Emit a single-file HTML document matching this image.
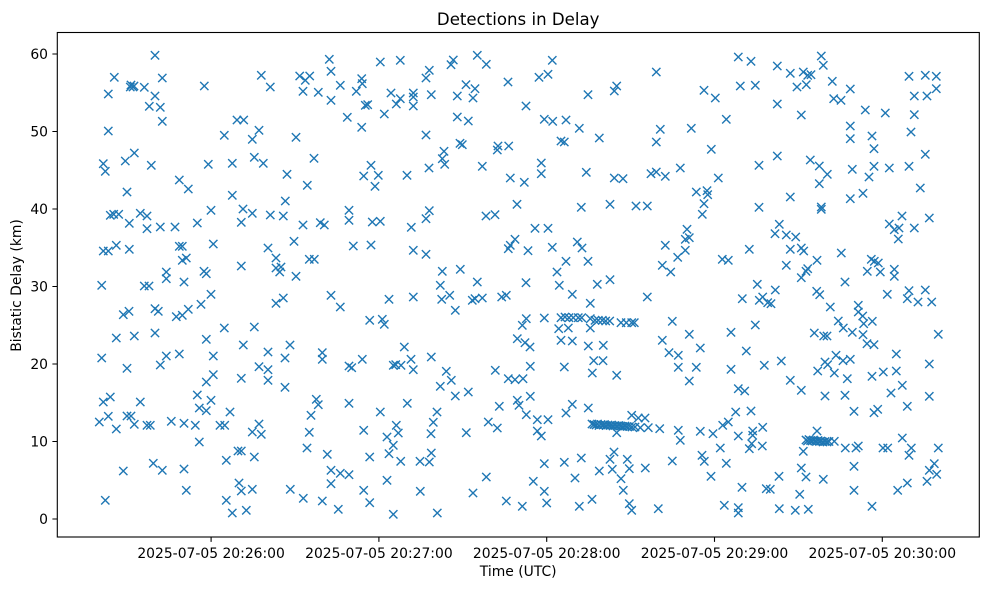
<!DOCTYPE html>
<html><head><meta charset="utf-8"><style>
html,body{margin:0;padding:0;background:#fff;}
svg{display:block;}
text{font-family:"DejaVu Sans","Liberation Sans",sans-serif;fill:#000;}
</style></head><body>
<svg width="989" height="590" viewBox="0 0 989 590" xmlns="http://www.w3.org/2000/svg">
<defs>
<marker id="mx" markerWidth="10" markerHeight="10" refX="5" refY="5" markerUnits="userSpaceOnUse" orient="0" overflow="visible">
<path d="M0.85 0.85L9.15 9.15M9.15 0.85L0.85 9.15" stroke="#1f77b4" stroke-width="1.39" fill="none"/>
</marker>
</defs>
<rect x="0" y="0" width="989" height="590" fill="#fff"/>
<text x="518.2" y="25" font-size="16.6" text-anchor="middle">Detections in Delay</text>
<polyline fill="none" stroke="none" marker-start="url(#mx)" marker-mid="url(#mx)" marker-end="url(#mx)" points="
155,55.3 114.3,77.3 162.3,78 131,85 133,87 134,86 130.3,87 144.3,87.3 204.3,86 108.3,94 155,96 149.3,106.3 160.3,107.3 162.3,121.3 108.3,131
261.3,75.3 270.3,87 299.7,76 305.3,80.3 309.7,76 303,91.3 318.3,92.3 329.3,59.3 331,71.3 340.3,85.3 331,100.3 356.3,91.3 361.7,78.7 362.3,83.7 365.3,105.3
347.3,117.3 361.7,127.3 237,120 243.7,120 224.3,135.3 259,130.3 252.3,139.3 296,137.3 103.3,163.7 105.3,171.3 125.3,161 134.3,153 151.3,165.3 208.3,164.3
232.3,163.3 254.3,157.3 263.3,163.3 314,158.3 287,174.3 307.3,185.3 363.7,176 179.3,180 188.3,189 127,192 232.3,195.3 285.3,201 211,210.3 243,209
252.3,213.3 270.3,215 283.3,216 241.3,222.3 110.3,215.3 113.7,214.3 118.7,214.3 129.3,223.3 140.3,213.3 147,216 147,228.7 160.3,227 175,227 197.3,223
303,225 320.3,222.7 324.3,225 349,210.3 349,220.3 353.3,246 103.3,251 108.3,251 116.3,245.3 129.3,249.3 179.3,246.3 182.3,246.3 182.3,260.3 186.3,258
213.3,244 268,248 276,258 294,241.3 309.3,259.3 314.3,259.3 241.3,266 276,268 281,267 279.7,272 296,276.3 166.3,272 166.3,278.7 204,271.3 206.3,273.7
184,282 101.7,285.3 144.3,286 149,286
380.3,62 400.3,60.3 429.3,70.3 426,78 451,64.7 453.3,60 477.3,55.3 486.3,64.3 508,82 539,77.3 548,74.3 552.3,60.3 656.3,72 391,93 396.3,104 400.3,98.7
413.3,93 413.3,97 413.3,106 431.3,94.7 384.3,114 367.7,104.7 457.3,96 466,84.7 475,88.7 473,98 457.3,117 468.3,121 526,106 588,94.7 614.3,91 616.7,86
544.3,119.3 552.7,121.3 566,120 579.3,128.3 599.3,138 660.3,129.3 656.3,142 426,135 460,143.3 462.3,144.7 498,146 497.3,150 508.7,146 561,141 564.3,142
444,151.3 442.3,158.7 444.7,164.3 371,165.3 378.3,175.3 375,186.3 407,175.3 429,168 482.3,166.3 541.3,163 541.3,173.7 510.3,178 524.3,182.3 586.3,172.3
614.3,178 623,178.7 651,173.7 656.3,172 665.3,176.3 517,204.3 581.3,207.3 610,204.3 636,206 647.3,206 429.3,210.7 426,218.7 486,216 495,214.7 372.3,222
380.3,221.3 411.3,227.3 535,228.3 548,228.3 371,245 413.3,250.3 426,254.3 508.3,248.7 510.3,245.3 515,239.3 528,250.7 552.3,247.3 577.3,242 582,248
665.3,245.3 566,261.3 588,261.3 442.3,271.3 460.3,269.3 557,272 662.3,265.3 670.7,272 440.3,285.3 477.3,282 526,282.7 559.3,285.3 597.3,284.3 610,279.7
738.3,57 751,61.3 777.3,66 790.3,73.3 803.3,72 807.7,75.3 811,74.7 821.3,56 823.3,65.3 832.3,81.3 797,87 806.3,84.7 740.3,86 755.3,85.3 704,90.3 715.3,98
777.3,104 833.7,98.7 841,100.3 850.3,89 909,76.3 925.3,75.3 936.3,76.3 914.3,96 927,96 936.3,88.7 865.3,110 885.3,113 914.3,114.7 801.3,115 726.3,119.3
691.3,128.3 850.3,126 850.3,138.7 872,136 874,148.7 911,132 711.3,149.3 925.3,154.3 777.3,156 810.3,160 819.3,166 827.3,174.3 819.3,183.7 680.3,168
759,165.3 718.3,178 852.3,169.3 874,166.3 869,177 889.3,168 909,166.3 920.3,188 696.3,192 707,190.7 707.7,194.7 704,203.7 702.3,214.3 790.3,197 759,207.3
821.3,207 821.3,209.3 850.3,198.7 863,193.3 902,216 929.3,218 889.3,224 894.3,229.7 899,228 898.3,239 914.3,228 779.3,224.3 775,233.7 786.3,235 795.7,237
687,229.3 685.3,239.3 689.3,237.7 685.3,250.3 677.7,257.3 749.3,249.3 790.3,249.3 801.3,248 803.7,251 841.3,253 722.3,259.3 728.3,260.3 786.3,265.3
817,260.3 807.7,268.7 806,271.3 801.3,277.7 871.3,259.3 874.3,261.3 878.3,263 867.3,271.3 880.3,272 894.3,269.3 894.3,276.3 757.3,284.3 845,282
211,294.3 201,304.3 188.3,309.3 182.3,315.3 176.3,316.7 155,308.7 158.3,311.3 123.3,314.7 129,311.3 276,303.3 283.3,298 331,295.3 340.3,307 116.3,338
134.3,336 155,333 206.3,339.3 224.3,328 254.3,327 243.3,345 290,345 268,352 285,358 322.3,352.7 322.3,359.3 362.3,359.3 349,366 351.7,367.7 101.7,358
127,368.3 160.3,365 166.3,356 179.3,354 213.3,356 259,366.7 268,369.7 268,380.3 241.3,378.3 206.3,382 213.3,374.7 285,387.3 103.3,402 110.3,397 140.3,402
197.3,395 211,400.3 199.3,408 206.3,410.7 230,412 316.3,399.3 318.3,404.7 349,403.3 311,415.3 99.3,422 108.3,416.3 116.3,429 127,416 131,416 134.3,424.3
147,425.3 150.3,425.3 171.3,421.3 184,423.3 195.3,425.3 220,425.3 224.7,425.3 199.3,442 252.3,432 259,424 261.3,434.3 309.3,432.3 363.7,430.3 307,448
327.3,454.3 238,451 241.3,451 226.3,460.3 254.3,457 123.3,471 153.3,463.3 162.3,470.3 184,469 331,470.3 340.3,473.3 349,474.7 239,483 241.3,491
252.3,489.3 186.3,490.3 290.3,489.3 331,483.7 363.7,490.3 105.3,500.3 226.3,500.3 303.3,498.3 322.3,501 232.3,513 246.3,510.3 338.3,509.3
389,299.3 413.3,297 441.7,299.3 449.7,295.3 455.3,310.3 472.3,300.3 475,298.7 482.3,298 501.7,297 506.3,295.3 572.3,294.3 590.3,303.3 647.3,297
369.7,320.3 382.3,319.3 384.3,324.3 526.3,318.7 522.3,325.3 544.3,318 561,317.7 565,317 569,317.7 573.3,317.7 578.3,317.7 581.7,317.7 590.3,318.7
595,320.3 598.3,320.3 602.3,320.3 605.7,321 609.7,321 621,322.7 626.3,322.7 631.7,322.7 634.3,322.7 672.3,321.3 558.7,328.7 568.3,328 590.3,328
517.3,338.7 525,342.7 530,347 561,340.3 572.3,341 588.3,346 603.3,345.3 662.3,340.3 669,352.7 404.3,347 393.3,365.3 395.7,364.7 401,365.3 411,359.3
413.3,369.7 431.3,357 446.3,371.3 451.3,380.3 440.3,386.3 455.3,396 468.3,392 495.3,370.3 508.3,378.7 515,379.7 523,378.7 530.3,366.3 564.3,367
593.7,360.7 603,360.7 592.3,373 616.7,375.3 530.3,396.3 407.3,403.3 380.3,412 437,412 433.3,422.3 431,433.7 499.3,406.3 517.3,400.3 519,405.3 526.3,414.7
572.3,404.3 566,413 588.3,408 488.3,422 497.3,428 466.3,432.7 537.3,419.7 548,419.7 537.3,431 541.3,436 640.3,427.7 648.3,427.7 659.7,428.7 631.7,415.3
638.3,418 645,418 616.7,432.7 396.3,425.3 398.3,433 387,437 393.3,445.3 389,453.7 369.7,457 400.7,461.3 420,461.3 429.3,462 431.3,453 544.3,463.7
564.3,462.3 581.3,458 614,452 610,459.3 612.3,469.3 627.3,459.3 629.3,468.7 645.3,468 599.3,471 575,478 621,478.7 672.3,461 387,480.3 486.3,477
533.3,481.3 420.3,491.3 473,493 544.3,491.3 623.3,490.3 369.7,502.7 506.3,501 522.3,506.3 546.7,503 579.3,506.3 592,499.3 629.3,503.7 631.7,510.3
658.3,508.7 393.3,514.3 437.3,513
592,424 594,424.5 596,425 597.5,424 599,425.5 601,424.5 603,425 604.5,424.5 606,425.5 608,425 610,425.5 611.5,425 613,426 615,425.5 617,426 619,425.5
621,426 623,426.5 625,426 627,426.5 629.5,426.5 632,427 635,427
742.3,298.7 759.3,300.3 762.7,297 767.7,302.7 771,303.7 775.3,290 816.7,291.3 819.7,294.7 830.3,307 858.3,305.3 858.3,312 862.7,316 863.7,323.7
872.3,321.3 887.3,294.3 909,290.7 907.3,298.7 918,302 925.3,290 931.7,302 689.3,334.3 731,332.3 755.3,325 838.3,321 843.3,328 852.3,332.3 814.3,333
823.7,336 827,336 863,334.7 867,343.7 874,344.7 938.3,334.3 700.3,348 678.3,355.3 678.3,367.3 696.3,367.3 689.3,381 746.3,351 731,369.3 764.3,365.3
781.3,361 790.3,380.3 801.3,390.3 825,362 827.7,364.7 817.7,371 834.3,373 836,355.3 843,360.7 850.3,359.3 847.3,378.7 825,396 845,395.3 896.3,354
929.3,364 872,376.3 883.3,372 896.3,371 902.3,385.3 891,393 929.3,396.3 738.3,388.7 744.7,391 854,411.3 874,412.7 877.7,409.3 907.3,406.3 735.7,412
751,411 728.3,422 722.7,425.3 713,433.7 678.3,430.3 680.3,440.3 700.3,431.3 738.3,436 752.7,431 752.7,435.3 762.7,427.3 751.7,443.7 749.3,448.7
762.3,446 720.3,448 702,455.3 704.3,461.3 726.3,463.3 711,476.3 742,487.3 766.3,488.7 770.3,489.3 779,476.3 724.3,505.3 738.3,507.7 738.3,513
779.3,508.7 795.3,510.3 808.3,509.3 799.7,494.3 817,431 834.3,441.3 803.3,451.3 845.3,448 856,448 858.3,446 883,448 887.7,448 902.3,438 911.3,448
909,455.3 938.3,448 854,466.3 801.3,468 806,477 823.3,479.3 854,490.3 872,506.3 897.7,490.3 907.3,483 927,481.3 929.3,470.3 934.3,463.7 936.7,474.3
806,440 807.5,441 809,439.5 810.5,440.5 812,441 813.5,440 815,441 816.5,441.5 818,440.5 819.5,441.5 821,441 823,442 825,441.5 827,442 829,441.5
"/>
<g stroke="#000" stroke-width="1.1" fill="none">
<rect x="57.3" y="32.5" width="922" height="504.5"/>
<path d="M57.3 519h-4.9M57.3 441.5h-4.9M57.3 364h-4.9M57.3 286.5h-4.9M57.3 209h-4.9M57.3 131.5h-4.9M57.3 54h-4.9"/>
<path d="M211.1 537v4.9M378.9 537v4.9M546.7 537v4.9M714.5 537v4.9M882.3 537v4.9"/>
</g>
<g font-size="13.9" text-anchor="end">
<text x="48" y="524">0</text>
<text x="48" y="446.5">10</text>
<text x="48" y="369">20</text>
<text x="48" y="291.5">30</text>
<text x="48" y="214">40</text>
<text x="48" y="136.5">50</text>
<text x="48" y="59">60</text>
</g>
<g font-size="13.9" text-anchor="middle">
<text x="211.1" y="558">2025-07-05 20:26:00</text>
<text x="378.9" y="558">2025-07-05 20:27:00</text>
<text x="546.7" y="558">2025-07-05 20:28:00</text>
<text x="714.5" y="558">2025-07-05 20:29:00</text>
<text x="882.3" y="558">2025-07-05 20:30:00</text>
<text x="518.2" y="576">Time (UTC)</text>
<text x="0" y="0" transform="translate(20.8 285.5) rotate(-90)">Bistatic Delay (km)</text>
</g>
</svg>
</body></html>
